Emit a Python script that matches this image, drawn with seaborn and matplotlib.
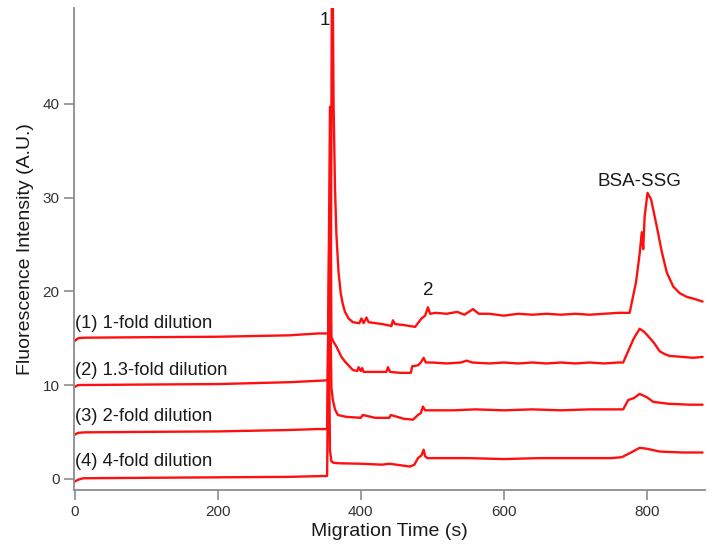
import matplotlib
matplotlib.use("Agg")
import matplotlib.pyplot as plt
import seaborn as sns
import pandas as pd

# ---------------- data ----------------
t1 = [0, 5, 15, 100, 200, 300, 320, 340, 355, 358, 360, 362, 364, 366, 369, 372, 375, 378, 383, 389,
      398, 401, 404, 408, 411, 430, 443, 445, 448, 460, 476, 480, 485, 490, 494, 497,
      505, 520, 535, 545, 557, 565, 580, 600, 620, 640, 660, 680, 700, 720, 740, 760,
      776, 785, 790, 793, 795, 797, 801, 806, 814, 821, 828, 837, 846, 856, 866, 878]
y1 = [14.7, 15.0, 15.05, 15.1, 15.15, 15.3, 15.4, 15.5, 15.5, 16.0, 62.0, 40.0, 31.0, 26.0, 22.0, 19.8, 18.6, 17.8, 17.1, 16.7,
      16.6, 17.1, 16.6, 17.2, 16.7, 16.5, 16.3, 16.9, 16.5, 16.4, 16.2, 16.6, 17.1, 17.4, 18.3, 17.6,
      17.7, 17.6, 17.8, 17.5, 18.1, 17.6, 17.6, 17.4, 17.6, 17.5, 17.6, 17.5, 17.6, 17.5, 17.6, 17.7,
      17.7, 21.0, 24.0, 26.3, 24.5, 28.0, 30.5, 29.8, 26.9, 24.2, 22.0, 20.5, 19.8, 19.4, 19.2, 18.9]

t2 = [0, 5, 15, 100, 200, 300, 340, 354, 357, 359, 362, 366, 373, 378, 389, 395, 397, 400,
      402, 404, 420, 436, 438, 441, 455, 470, 472, 480, 484, 488, 491, 500, 520, 540, 548,
      556, 580, 600, 620, 640, 660, 680, 700, 720, 740, 760, 767, 775, 782, 790, 796, 802,
      810, 818, 825, 832, 850, 865, 878]
y2 = [9.8, 10.0, 10.0, 10.05, 10.1, 10.3, 10.45, 10.5, 39.7, 15.1, 14.6, 14.1, 13.0, 12.5, 11.6, 11.5, 11.9, 11.5,
      11.8, 11.4, 11.4, 11.4, 11.9, 11.4, 11.3, 11.3, 12.0, 12.1, 12.4, 12.9, 12.4, 12.4, 12.3, 12.4, 12.6,
      12.4, 12.3, 12.4, 12.3, 12.4, 12.3, 12.4, 12.3, 12.4, 12.3, 12.4, 12.4, 13.8, 15.0, 16.0, 15.7, 15.2,
      14.5, 13.6, 13.3, 13.1, 13.0, 12.9, 13.0]

t3 = [0, 5, 15, 100, 200, 300, 340, 353, 356, 359, 361, 364, 368, 380, 400, 403, 420, 440,
      442, 460, 473, 480, 484, 487, 490, 500, 530, 560, 600, 640, 680, 720, 760, 767, 774,
      782, 790, 800, 809, 830, 860, 878]
y3 = [4.7, 4.9, 4.95, 5.0, 5.05, 5.2, 5.3, 5.3, 26.0, 9.7, 8.4, 7.4, 6.8, 6.6, 6.5, 6.8, 6.5, 6.5,
      6.8, 6.4, 6.3, 6.8, 7.0, 7.7, 7.3, 7.3, 7.3, 7.4, 7.3, 7.4, 7.3, 7.4, 7.4, 7.4, 8.4,
      8.6, 9.05, 8.7, 8.2, 8.0, 7.9, 7.9]

t4 = [0, 5, 12, 100, 200, 300, 353, 355, 357, 359, 362, 370, 400, 430, 440, 469, 475, 480,
      485, 488, 490, 493, 500, 550, 600, 650, 700, 750, 765, 778, 790, 800, 818, 850, 878]
y4 = [-0.3, -0.1, 0.05, 0.1, 0.15, 0.2, 0.3, 18.0, 3.0, 1.85, 1.7, 1.65, 1.6, 1.5, 1.6, 1.3, 1.5, 2.2,
      2.5, 3.1, 2.4, 2.2, 2.2, 2.2, 2.1, 2.2, 2.2, 2.2, 2.3, 2.8, 3.3, 3.2, 2.9, 2.8, 2.8]

trace_labels = ["(1) 1-fold dilution", "(2) 1.3-fold dilution",
                "(3) 2-fold dilution", "(4) 4-fold dilution"]
label_y = [16.6, 11.6, 6.6, 1.8]

peak_labels = ["1", "2", "BSA-SSG"]
peak_x = [350, 495, 790]
peak_y = [48.9, 20.1, 31.7]

x_ticks = [0, 200, 400, 600, 800]
y_ticks = [0, 10, 20, 30, 40]

# ---------------- plot ----------------
sns.set_style("ticks")
plt.rcParams["font.family"] = ["Liberation Sans", "DejaVu Sans"]

fig = plt.figure(figsize=(7.14, 5.49), dpi=100)
ax = fig.add_axes([0.1036, 0.1075, 0.8834, 0.8775])

frames = []
for i, (t, y) in enumerate([(t1, y1), (t2, y2), (t3, y3), (t4, y4)]):
    frames.append(pd.DataFrame({"time": t, "signal": y, "trace": trace_labels[i]}))
df = pd.concat(frames, ignore_index=True)

sns.lineplot(data=df, x="time", y="signal", hue="trace", units="trace",
             estimator=None, sort=False,
             palette=["#ff1010"] * 4, linewidth=1.7, legend=False, ax=ax)

for lab, ly in zip(trace_labels, label_y):
    ax.text(0, ly, lab, fontsize=13.2, color="#1a1a1a", ha="left", va="center")

for lab, px, py in zip(peak_labels, peak_x, peak_y):
    ax.text(px, py, lab, fontsize=13.5, color="#1a1a1a", ha="center", va="center")

ax.set_xlim(-1, 881)
ax.set_ylim(-1.2, 50.2)
ax.set_xticks(x_ticks)
ax.set_yticks(y_ticks)
ax.set_xlabel("Migration Time (s)", fontsize=14, color="#1a1a1a", labelpad=3)
ax.set_ylabel("Fluorescence Intensity (A.U.)", fontsize=14, color="#1a1a1a", labelpad=6)

for side in ["top", "right"]:
    ax.spines[side].set_visible(False)
for side in ["left", "bottom"]:
    ax.spines[side].set_color("#8c8c8c")
    ax.spines[side].set_linewidth(1.3)
ax.tick_params(axis="both", colors="#8c8c8c", length=7, width=1.2, direction="out",
               labelcolor="#333333", labelsize=11)

fig.savefig("out.png", dpi=100)
